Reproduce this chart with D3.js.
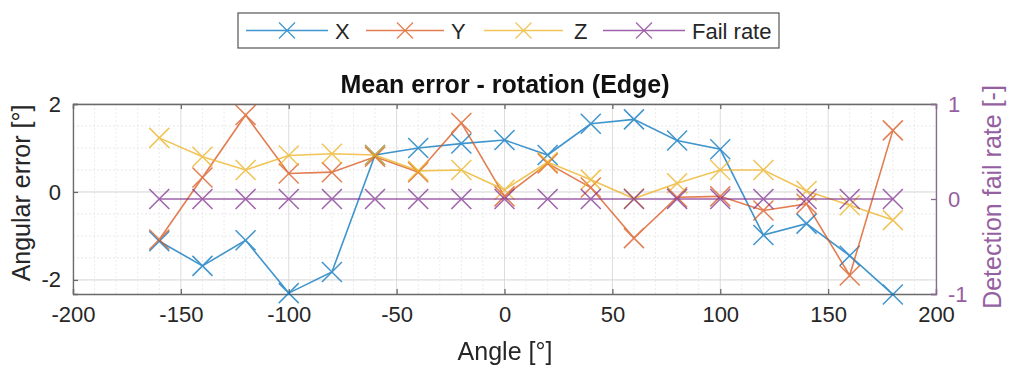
<!DOCTYPE html>
<html><head><meta charset="utf-8">
<script src="https://cdn.jsdelivr.net/npm/d3@7"></script>
<style>body{margin:0;background:#fff;}svg{display:block;font-family:"Liberation Sans",Arial,sans-serif;}</style>
</head><body><svg id="c" width="1015" height="372"></svg>
<script>
const angles = [-160,-140,-120,-100,-80,-60,-40,-20,0,20,40,60,80,100,120,140,160,180];
const errX = [-1.12,-1.68,-1.1,-2.3,-1.82,0.84,1.0,1.1,1.18,0.84,1.55,1.65,1.17,0.97,-0.98,-0.72,-1.45,-2.33];
const errY = [-1.08,0.33,1.75,0.42,0.45,0.8,0.45,1.57,-0.1,0.65,0.1,-1.05,-0.12,-0.1,-0.42,-0.27,-1.9,1.4];
const errZ = [1.23,0.8,0.5,0.83,0.87,0.84,0.48,0.5,0.05,0.68,0.28,-0.15,0.2,0.5,0.5,0.02,-0.3,-0.64];
const failRate = [0,0,0,0,0,0,0,0,0,0,0,0,0,0,0,0,0,0];
const xTicks = [-200,-150,-100,-50,0,50,100,150,200];
const yLeftTicks = [-2,0,2];
const yRightTicks = [-1,0,1];
const seriesNames = ["X","Y","Z","Fail rate"];
const colors = ["#0072BD","#D95319","#EDB120","#7E2F8E"];

const svg = d3.select("#c");
const L=73,R=936,T=104,B=294;
const x = d3.scaleLinear().domain([-200,200]).range([L,R]);
const yL = d3.scaleLinear().domain([-2.32,2]).range([B,T]);
const yR = d3.scaleLinear().domain([-1,1]).range([B,T]);
const txt="#262626";
const fmt = d => String(d);

// grid
const g = svg.append("g");
g.selectAll(".mx").data(d3.range(-200,201,10).filter(v=>v%50!==0)).enter().append("line")
 .attr("x1",d=>x(d)).attr("x2",d=>x(d)).attr("y1",T).attr("y2",B)
 .attr("stroke","#ececec").attr("stroke-width",1).attr("stroke-dasharray","2,2");
g.selectAll(".my").data(d3.range(-2,2.01,0.5).filter(v=>v%2!==0)).enter().append("line")
 .attr("y1",d=>yL(d)).attr("y2",d=>yL(d)).attr("x1",L).attr("x2",R)
 .attr("stroke","#e6e6e6").attr("stroke-width",1).attr("stroke-dasharray","2,2");
g.selectAll(".Mx").data(xTicks).enter().append("line")
 .attr("x1",d=>x(d)).attr("x2",d=>x(d)).attr("y1",T).attr("y2",B)
 .attr("stroke","#dcdcdc").attr("stroke-width",1);
g.selectAll(".My").data(yLeftTicks).enter().append("line")
 .attr("y1",d=>yL(d)).attr("y2",d=>yL(d)).attr("x1",L).attr("x2",R)
 .attr("stroke","#d4d4d4").attr("stroke-width",1);

// axes
const ax = svg.append("g").attr("transform",`translate(0,${B})`)
 .call(d3.axisBottom(x).tickValues(xTicks).tickSize(-5).tickPadding(12).tickFormat(fmt));
const axT = svg.append("g").attr("transform",`translate(0,${T})`)
 .call(d3.axisTop(x).tickValues(xTicks).tickSize(-5).tickFormat(""));
const ayL = svg.append("g").attr("transform",`translate(${L},0)`)
 .call(d3.axisLeft(yL).tickValues(yLeftTicks).tickSize(-5).tickPadding(12).tickFormat(fmt));
const ayR = svg.append("g").attr("transform",`translate(${R},0)`)
 .call(d3.axisRight(yR).tickValues(yRightTicks).tickSize(-5).tickPadding(12).tickFormat(fmt));
[ax,axT,ayL].forEach(a=>{a.selectAll("path,line").attr("stroke","#6a6a6a").attr("stroke-width",1.3);
 a.selectAll("text").attr("fill",txt).attr("font-size",22).attr("font-family","Liberation Sans, Arial, sans-serif");});
ayR.selectAll("path,line").attr("stroke","#8a6a92").attr("stroke-width",1.3);
ayR.selectAll("text").attr("fill","#9560a2").attr("font-size",22).attr("font-family","Liberation Sans, Arial, sans-serif");
ax.selectAll("text").attr("dy","0.71em");
svg.selectAll(".domain").attr("stroke","#6a6a6a");
ayR.select(".domain").attr("stroke","#8a6a92");

// series
const line = (ys,yS)=>d3.line().x((d,i)=>x(angles[i])).y(d=>yS(d))(ys);
const cross = (sel,s,c)=>{
  sel.append("line").attr("x1",-s).attr("y1",-s).attr("x2",s).attr("y2",s).attr("stroke",c);
  sel.append("line").attr("x1",-s).attr("y1",s).attr("x2",s).attr("y2",-s).attr("stroke",c);
};
const all = [[errX,yL],[errY,yL],[errZ,yL],[failRate,yR]];
all.forEach(([ys,yS],k)=>{
  const sg = svg.append("g").attr("opacity",0.75);
  sg.append("path").attr("d",line(ys,yS)).attr("fill","none").attr("stroke",colors[k]).attr("stroke-width",1.6);
  ys.forEach((v,i)=>{
    const m = sg.append("g").attr("transform",`translate(${x(angles[i])},${yS(v)})`).attr("stroke-width",1.5);
    cross(m,10,colors[k]);
  });
});

// title and labels
svg.append("text").attr("x",505).attr("y",93).attr("text-anchor","middle")
 .attr("font-size",25).attr("font-weight","bold").attr("fill","#111").text("Mean error - rotation (Edge)");
svg.append("text").attr("x",505).attr("y",360).attr("text-anchor","middle")
 .attr("font-size",25).attr("fill",txt).text("Angle [°]");
svg.append("text").attr("transform","translate(30,193) rotate(-90)").attr("text-anchor","middle")
 .attr("font-size",25).attr("fill",txt).text("Angular error [°]");
svg.append("text").attr("transform","translate(1001,197) rotate(-90)").attr("text-anchor","middle")
 .attr("font-size",25).attr("fill","#9560a2").text("Detection fail rate [-]");

// legend
const lg = svg.append("g");
lg.append("rect").attr("x",238).attr("y",13).attr("width",541).attr("height",35)
 .attr("fill","#fff").attr("stroke","#555").attr("stroke-width",1.2);
const legX = [[246,328,335],[366,444,451],[484,563,574],[603,685,692]];
seriesNames.forEach((n,k)=>{
  const [a,b,t]=legX[k];
  const eg = lg.append("g").attr("opacity",0.75);
  eg.append("line").attr("x1",a).attr("x2",b).attr("y1",30.5).attr("y2",30.5).attr("stroke",colors[k]).attr("stroke-width",1.5);
  const m = eg.append("g").attr("transform",`translate(${(a+b)/2},30.5)`).attr("stroke-width",1.3);
  cross(m,8,colors[k]);
  lg.append("text").attr("x",t).attr("y",38.5).attr("font-size",22).attr("fill",txt).text(n);
});
</script></body></html>
